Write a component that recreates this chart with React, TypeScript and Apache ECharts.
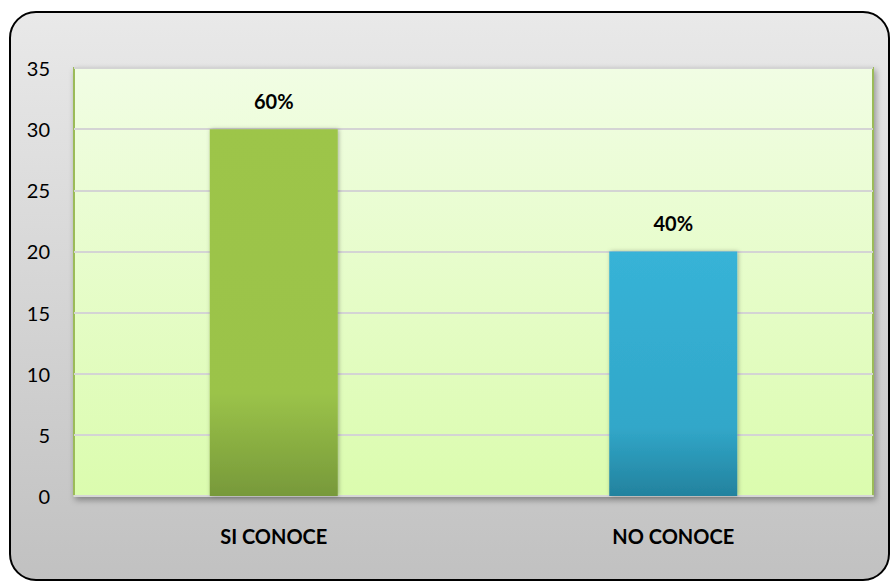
import React, { useEffect, useRef } from "react";
import * as echarts from "echarts";

const categories = ["SI CONOCE", "NO CONOCE"];
const values = [30, 20];
const yTicks = { min: 0, max: 35, interval: 5 };

const barColors = [
  ["#9dc54a", "#9bc349", "#77993a"],
  ["#37b3d7", "#31a7c9", "#23829e"],
];

export default function App() {
  const ref = useRef<HTMLDivElement>(null);
  useEffect(() => {
    if (!ref.current) return;
    const chart = echarts.init(ref.current, undefined, { renderer: "svg" });
    const total = values.reduce((a, b) => a + b, 0);
    const font = "Lato, 'Open Sans', sans-serif";
    chart.setOption({
      animation: false,
      graphic: [
        {
          type: "rect",
          z: -10,
          silent: true,
          shape: { x: 10, y: 12, width: 879, height: 568, r: 26 },
          style: {
            fill: new echarts.graphic.LinearGradient(0, 0, 0, 1, [
              { offset: 0, color: "#e9e9e9" },
              { offset: 1, color: "#c1c1c1" },
            ]),
            stroke: "#000",
            lineWidth: 2,
          },
        },
      ],
      grid: {
        left: 74,
        right: 17,
        top: 68,
        bottom: 87,
        show: true,
        backgroundColor: new echarts.graphic.LinearGradient(0, 0, 0, 1, [
          { offset: 0, color: "#f1fde4" },
          { offset: 1, color: "#dbfcae" },
        ]),
        borderColor: "#9bbb59",
        borderWidth: 2,
        shadowColor: "rgba(0,0,0,0.35)",
        shadowBlur: 6,
        shadowOffsetX: 2,
        shadowOffsetY: 3,
      },
      xAxis: {
        type: "category",
        data: categories,
        axisLine: { show: true, lineStyle: { color: "#d6d6d6", width: 2 } },
        axisTick: { show: false },
        axisLabel: {
          color: "#000",
          fontFamily: font,
          fontWeight: "bold",
          fontSize: 20,
          margin: 30,
        },
      },
      yAxis: {
        type: "value",
        min: yTicks.min,
        max: yTicks.max,
        interval: yTicks.interval,
        axisLine: { show: false },
        axisTick: { show: false },
        splitLine: { lineStyle: { color: "#d4d4d4", width: 2 } },
        axisLabel: {
          color: "#000",
          fontFamily: font,
          fontSize: 20,
          margin: 24,
        },
      },
      series: [
        {
          type: "bar",
          barWidth: 128,
          data: values.map((v, i) => ({
            value: v,
            itemStyle: {
              color: new echarts.graphic.LinearGradient(0, 0, 0, 1, [
                { offset: 0, color: barColors[i][0] },
                { offset: 0.72, color: barColors[i][1] },
                { offset: 1, color: barColors[i][2] },
              ]),
            },
          })),
          itemStyle: {
            shadowColor: "rgba(0,0,0,0.3)",
            shadowBlur: 4,
            shadowOffsetX: 1,
          },
          label: {
            show: true,
            position: "top",
            distance: 18,
            color: "#000",
            fontFamily: font,
            fontWeight: "bold",
            fontSize: 20,
            formatter: (p: any) => Math.round((p.value / total) * 100) + "%",
          },
        },
      ],
    });
    return () => chart.dispose();
  }, []);
  return (
    <div
      ref={ref}
      style={{ position: "fixed", left: 0, top: 0, width: 890, height: 583, background: "#fff" }}
    />
  );
}
